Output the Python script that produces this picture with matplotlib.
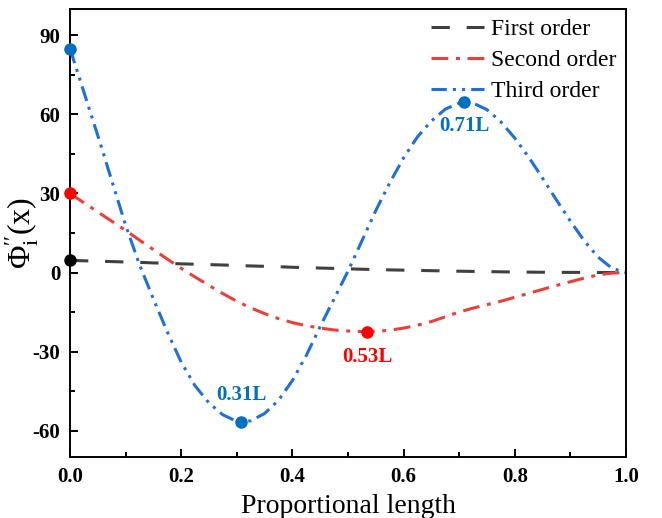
import matplotlib
matplotlib.use("Agg")
import matplotlib.pyplot as plt

matplotlib.rcParams["font.family"] = "Liberation Serif"
matplotlib.rcParams["mathtext.fontset"] = "custom"
matplotlib.rcParams["mathtext.rm"] = "Liberation Serif"
matplotlib.rcParams["mathtext.it"] = "Liberation Serif:italic"
matplotlib.rcParams["axes.unicode_minus"] = False

# proportional length, sampled every 0.025
x = [0.000, 0.025, 0.050, 0.075, 0.100, 0.125, 0.150, 0.175, 0.200, 0.225,
     0.250, 0.275, 0.300, 0.325, 0.350, 0.375, 0.400, 0.425, 0.450, 0.475,
     0.500, 0.525, 0.550, 0.575, 0.600, 0.625, 0.650, 0.675, 0.700, 0.725,
     0.750, 0.775, 0.800, 0.825, 0.850, 0.875, 0.900, 0.925, 0.950, 0.975,
     1.000]

first_order = [4.6, 4.45, 4.3, 4.15, 4.0, 3.85, 3.65, 3.5, 3.3, 3.15,
               3.0, 2.85, 2.7, 2.5, 2.35, 2.2, 2.0, 1.85, 1.7, 1.55,
               1.4, 1.25, 1.1, 1.0, 0.9, 0.8, 0.7, 0.6, 0.5, 0.42,
               0.35, 0.27, 0.2, 0.15, 0.1, 0.07, 0.05, 0.03, 0.01, 0.0,
               0.0]

second_order = [30.0, 26.5, 23.0, 19.5, 16.0, 12.3, 8.7, 5.1, 1.6, -1.7,
                -4.9, -8.0, -10.9, -13.4, -15.6, -17.5, -19.0, -20.2, -21.1, -21.8,
                -22.2, -22.4, -22.3, -21.9, -21.1, -20.0, -18.6, -16.8, -15.0, -13.5,
                -12.2, -10.9, -9.4, -7.9, -6.4, -4.9, -3.5, -2.1, -0.9, -0.2,
                0.0]

third_order = [85.0, 68.5, 52.0, 35.0, 18.0, 3.0, -10.0, -22.5, -34.0, -43.0,
               -49.5, -54.0, -56.5, -56.3, -53.5, -48.5, -41.0, -31.5, -20.5, -10.0,
               0.5, 12.0, 23.5, 34.0, 43.5, 51.5, 57.5, 62.0, 64.3, 64.3,
               61.8, 57.2, 51.0, 43.8, 35.8, 27.5, 19.5, 12.0, 5.8, 1.6,
               0.0]

# highlighted points: start values and extrema
start_x = [0.0, 0.0, 0.0]
start_y = [4.6, 30.0, 85.0]
start_colors = ["#000000", "#FF0000", "#0070C0"]

ext_x = [0.308, 0.709, 0.535]
ext_y = [-56.9, 64.7, -22.4]
ext_colors = ["#0070C0", "#0070C0", "#FF0000"]
ext_labels = ["0.31L", "0.71L", "0.53L"]
label_y = [-46.5, 55.5, -32.0]

fig = plt.figure(figsize=(6.62, 5.18), dpi=100)
ax = fig.add_axes([0.1057, 0.1178, 0.8399, 0.8648])

ax.plot(x, first_order, color="#404040", lw=2.2, linestyle=(0, (6, 5.5)),
        label="First order")
ax.plot(x, second_order, color="#E8403A", lw=2.2,
        linestyle=(0, (5.5, 2.5, 1.3, 2.5)), label="Second order")
ax.plot(x, third_order, color="#1F6FDB", lw=2.2,
        linestyle=(0, (5, 2, 1, 2, 1, 2)), label="Third order")

for xs, ys, c in zip(start_x, start_y, start_colors):
    ax.plot(xs, ys, "o", color=c, ms=8, clip_on=False, zorder=5)
for xs, ys, c, t, ly in zip(ext_x, ext_y, ext_colors, ext_labels, label_y):
    ax.plot(xs, ys, "o", color=c, ms=8, zorder=5)
    ax.text(xs, ly, t, color=c, fontsize=15, fontweight="bold",
            ha="center", va="center")

ax.set_xlim(0, 1)
ax.set_ylim(-70, 100)
ax.set_xticks([0.0, 0.2, 0.4, 0.6, 0.8, 1.0])
ax.set_xticks([0.1, 0.3, 0.5, 0.7, 0.9], minor=True)
ax.set_yticks([-60, -30, 0, 30, 60, 90])
ax.set_yticks([-45, -15, 15, 45, 75], minor=True)
ax.tick_params(which="both", direction="in", width=1.4, top=False, right=False)
ax.tick_params(which="major", length=6, labelsize=15, pad=7)
ax.tick_params(which="minor", length=3.5)
for lab in ax.get_xticklabels() + ax.get_yticklabels():
    lab.set_fontweight("bold")
for sp in ax.spines.values():
    sp.set_linewidth(1.4)

ax.set_xlabel("Proportional length", fontsize=20, labelpad=5)
ax.set_ylabel(r"$\Phi_\mathrm{i}^{\prime\prime}(\mathrm{x})$", fontsize=23)
ax.yaxis.set_label_coords(-0.052, 0.5)

ax.legend(loc="upper right", frameon=False, fontsize=17, handlelength=2.25,
          handletextpad=0.3, labelspacing=0.4, borderaxespad=0.3,
          borderpad=0.1)

fig.savefig("out.png", dpi=100)
